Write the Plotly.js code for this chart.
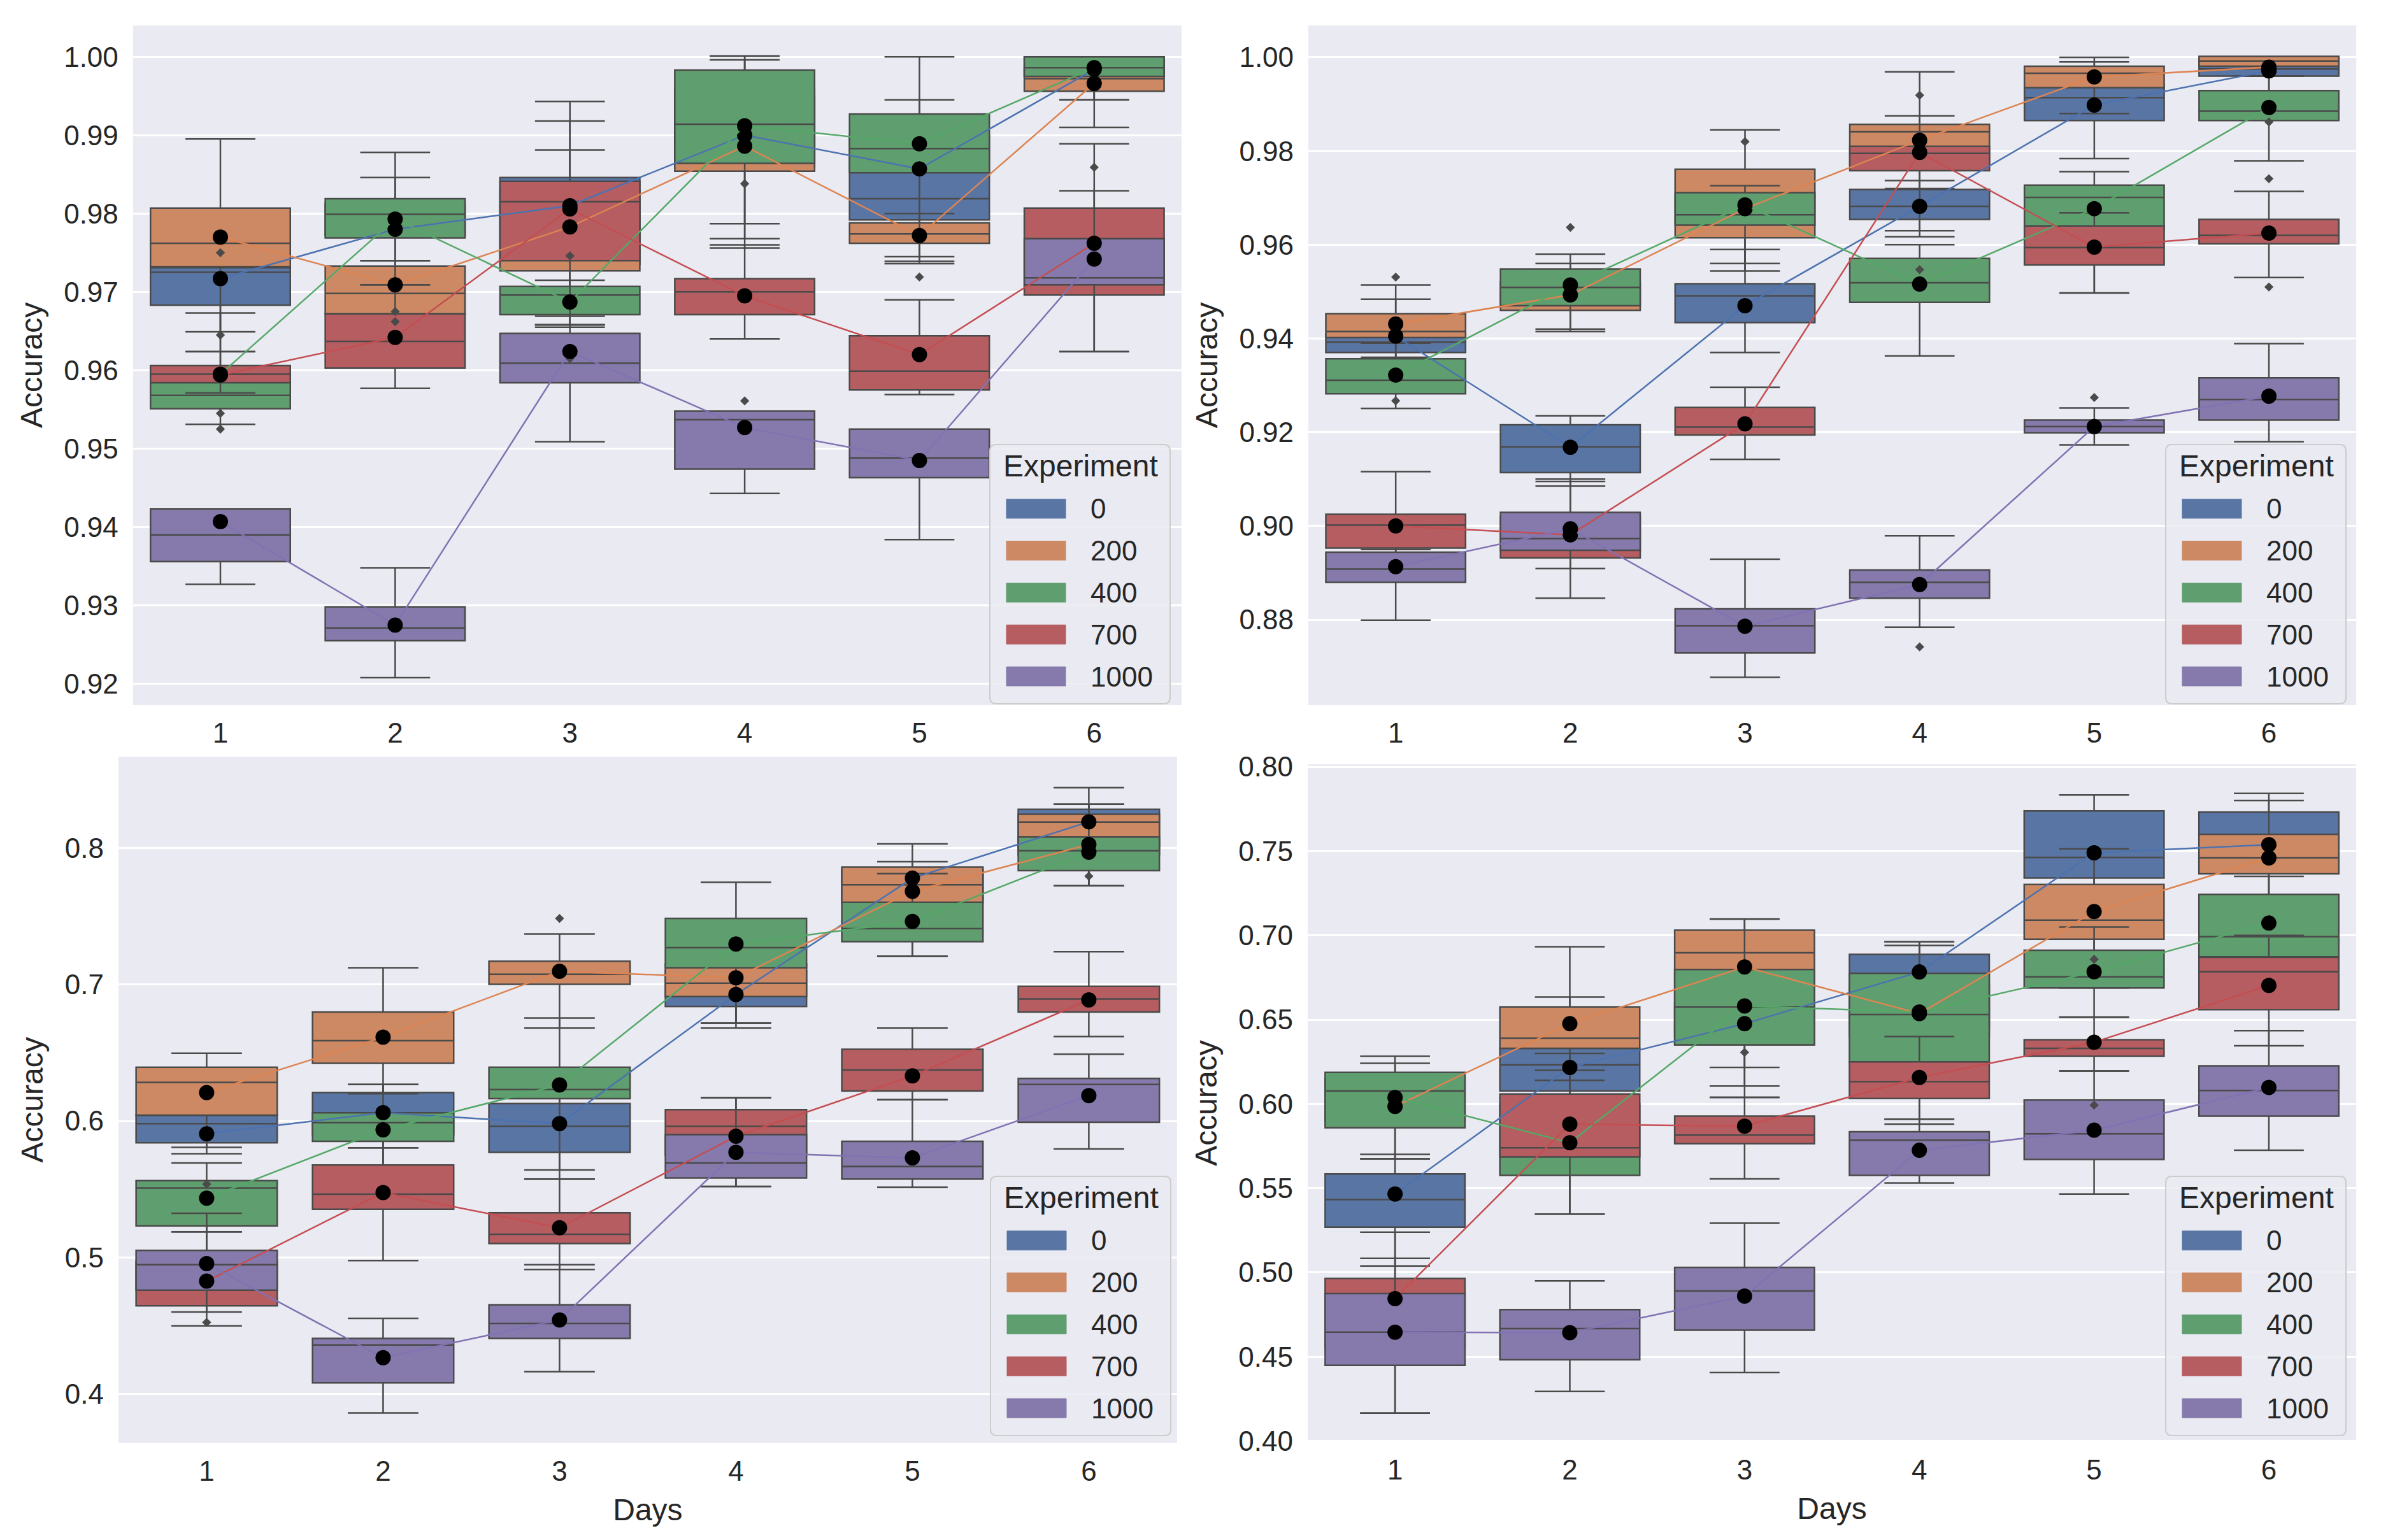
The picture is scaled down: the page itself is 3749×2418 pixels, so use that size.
<!DOCTYPE html>
<html>
<head>
<meta charset="utf-8">
<script src="https://cdn.plot.ly/plotly-3.0.1.min.js"></script>
<style>
  html, body { margin: 0; padding: 0; background: #ffffff; }
  #chart { width: 3749px; height: 2418px; }
</style>
</head>
<body>
<div id="chart"></div>
<script>
// Days on the x axis and the five experiments (hue)
const days = [1, 2, 3, 4, 5, 6];
const experiments = ['0', '200', '400', '700', '1000'];
const boxColors = ['#5975A4', '#CC8963', '#5F9E6E', '#B55D60', '#857AAB'];
const lineColors = ['#4C72B0', '#DD8452', '#55A868', '#C44E52', '#8172B3'];

// ---- Panel 1 (top left) : rows = experiment, cols = day ----
const p1Q1 = [
    [0.9683, 0.9772, 0.9735, 0.9860, 0.9792, 0.9975],
    [0.9732, 0.9672, 0.9727, 0.9854, 0.9762, 0.9956],
    [0.9551, 0.9769, 0.9671, 0.9864, 0.9852, 0.9975],
    [0.9584, 0.9603, 0.9740, 0.9671, 0.9575, 0.9696],
    [0.9356, 0.9255, 0.9584, 0.9474, 0.9463, 0.9709]
];
const p1Med = [
    [0.9725, 0.9790, 0.9790, 0.9895, 0.9819, 0.9990],
    [0.9762, 0.9698, 0.9775, 0.9900, 0.9774, 0.9972],
    [0.9568, 0.9799, 0.9696, 0.9914, 0.9883, 0.9986],
    [0.9595, 0.9637, 0.9815, 0.9700, 0.9599, 0.9735],
    [0.9390, 0.9271, 0.9609, 0.9537, 0.9488, 0.9718]
];
const p1Q3 = [
    [0.9731, 0.9812, 0.9846, 0.9960, 0.9900, 1.0000],
    [0.9807, 0.9733, 0.9830, 0.9950, 0.9788, 0.9986],
    [0.9600, 0.9819, 0.9707, 0.9983, 0.9927, 1.0000],
    [0.9606, 0.9672, 0.9841, 0.9717, 0.9644, 0.9807],
    [0.9423, 0.9298, 0.9647, 0.9548, 0.9525, 0.9768]
];
const p1Lo = [
    [0.9624, 0.9740, 0.9658, 0.9787, 0.9739, 0.9945],
    [0.9649, 0.9611, 0.9669, 0.9756, 0.9736, 0.9910],
    [0.9531, 0.9709, 0.9658, 0.9768, 0.9745, 0.9945],
    [0.9571, 0.9577, 0.9655, 0.9640, 0.9569, 0.9624],
    [0.9327, 0.9208, 0.9509, 0.9443, 0.9384, 0.9624]
];
const p1Hi = [
    [0.9787, 0.9846, 0.9918, 1.0001, 0.9945, 1.0000],
    [0.9895, 0.9740, 0.9881, 0.9996, 0.9800, 1.0000],
    [0.9673, 0.9878, 0.9715, 1.0001, 1.0000, 1.0000],
    [0.9624, 0.9709, 0.9943, 0.9760, 0.9690, 0.9889],
    [0.9423, 0.9348, 0.9658, 0.9548, 0.9525, 0.9829]
];
const p1Mean = [
    [0.9717, 0.9780, 0.9810, 0.9900, 0.9857, 0.9984],
    [0.9770, 0.9709, 0.9783, 0.9886, 0.9772, 0.9966],
    [0.9595, 0.9793, 0.9687, 0.9912, 0.9889, 0.9986],
    [0.9594, 0.9642, 0.9806, 0.9695, 0.9620, 0.9762],
    [0.9407, 0.9275, 0.9624, 0.9527, 0.9485, 0.9742]
];
const p1OutDay = [1, 1, 1, 1, 2, 2, 3, 3, 4, 4, 5, 6];
const p1OutVal = [0.9750, 0.9645, 0.9545, 0.9525, 0.9675, 0.9662, 0.9746, 0.9615, 0.9838, 0.9561, 0.9719, 0.9859];

// ---- Panel 2 (top right) ----
const p2Q1 = [
    [0.9370, 0.9114, 0.9434, 0.9654, 0.9865, 0.9960],
    [0.9402, 0.9460, 0.9615, 0.9770, 0.9935, 0.9981],
    [0.9282, 0.9470, 0.9642, 0.9477, 0.9633, 0.9865],
    [0.8953, 0.8932, 0.9194, 0.9758, 0.9557, 0.9602],
    [0.8880, 0.8948, 0.8729, 0.8846, 0.9199, 0.9226]
];
const p2Med = [
    [0.9392, 0.9169, 0.9491, 0.9682, 0.9914, 0.9975],
    [0.9415, 0.9477, 0.9665, 0.9841, 0.9966, 0.9992],
    [0.9311, 0.9509, 0.9664, 0.9519, 0.9701, 0.9885],
    [0.9002, 0.8985, 0.9211, 0.9795, 0.9594, 0.9620],
    [0.8908, 0.8973, 0.8787, 0.8880, 0.9212, 0.9270]
];
const p2Q3 = [
    [0.9410, 0.9216, 0.9517, 0.9718, 0.9940, 0.9995],
    [0.9453, 0.9520, 0.9761, 0.9857, 0.9981, 1.0002],
    [0.9357, 0.9548, 0.9711, 0.9571, 0.9727, 0.9929],
    [0.9025, 0.9020, 0.9253, 0.9810, 0.9640, 0.9654],
    [0.8944, 0.9029, 0.8823, 0.8906, 0.9226, 0.9316]
];
const p2Lo = [
    [0.9330, 0.9085, 0.9370, 0.9617, 0.9784, 0.9920],
    [0.9360, 0.9415, 0.9544, 0.9630, 0.9880, 0.9960],
    [0.9251, 0.9420, 0.9560, 0.9363, 0.9497, 0.9779],
    [0.8900, 0.8846, 0.9142, 0.9720, 0.9497, 0.9530],
    [0.8799, 0.8909, 0.8677, 0.8784, 0.9173, 0.9180]
];
const p2Hi = [
    [0.9484, 0.9235, 0.9590, 0.9737, 0.9990, 1.0000],
    [0.9514, 0.9560, 0.9845, 0.9969, 1.0000, 1.0002],
    [0.9390, 0.9580, 0.9726, 0.9600, 0.9756, 0.9960],
    [0.9116, 0.9095, 0.9296, 0.9875, 0.9668, 0.9714],
    [0.8950, 0.9100, 0.8929, 0.8979, 0.9252, 0.9389]
];
const p2Mean = [
    [0.9405, 0.9168, 0.9470, 0.9682, 0.9898, 0.9971],
    [0.9431, 0.9493, 0.9677, 0.9823, 0.9958, 0.9979],
    [0.9322, 0.9514, 0.9685, 0.9516, 0.9677, 0.9893],
    [0.9000, 0.8981, 0.9218, 0.9797, 0.9595, 0.9625],
    [0.8913, 0.8994, 0.8786, 0.8875, 0.9212, 0.9277]
];
const p2OutDay = [1, 1, 2, 3, 4, 4, 4, 5, 6, 6, 6];
const p2OutVal = [0.9531, 0.9267, 0.9637, 0.9820, 0.9919, 0.9547, 0.8742, 0.9274, 0.9862, 0.9741, 0.9510];

// ---- Panel 3 (bottom left) ----
const p3Q1 = [
    [0.5840, 0.5900, 0.5770, 0.6839, 0.7620, 0.8000],
    [0.6042, 0.6422, 0.7001, 0.6912, 0.7600, 0.7950],
    [0.5231, 0.5851, 0.6164, 0.7123, 0.7314, 0.7834],
    [0.4645, 0.5353, 0.5102, 0.5750, 0.6219, 0.6798],
    [0.4760, 0.4081, 0.4406, 0.5582, 0.5574, 0.5991]
];
const p3Med = [
    [0.5980, 0.6040, 0.5961, 0.6950, 0.7780, 0.8190],
    [0.6282, 0.6588, 0.7075, 0.7010, 0.7731, 0.8190],
    [0.5508, 0.5987, 0.6230, 0.7270, 0.7410, 0.7980],
    [0.4774, 0.5464, 0.5169, 0.5961, 0.6374, 0.6894],
    [0.4947, 0.4358, 0.4516, 0.5692, 0.5666, 0.6267]
];
const p3Q3 = [
    [0.6042, 0.6208, 0.6127, 0.7100, 0.7840, 0.8284],
    [0.6393, 0.6798, 0.7170, 0.7150, 0.7860, 0.8247],
    [0.5563, 0.6060, 0.6393, 0.7484, 0.7602, 0.8081],
    [0.4970, 0.5677, 0.5327, 0.6083, 0.6525, 0.6986],
    [0.5051, 0.4406, 0.4653, 0.5900, 0.5851, 0.6312]
];
const p3Lo = [
    [0.5807, 0.5803, 0.5574, 0.6717, 0.7400, 0.7723],
    [0.5760, 0.6200, 0.6680, 0.6680, 0.7207, 0.7723],
    [0.5187, 0.5563, 0.5641, 0.6717, 0.7207, 0.7723],
    [0.4498, 0.4977, 0.4911, 0.5519, 0.6157, 0.6618],
    [0.4600, 0.3860, 0.4162, 0.5519, 0.5515, 0.5795]
];
const p3Hi = [
    [0.6060, 0.6267, 0.6348, 0.7300, 0.7900, 0.8442],
    [0.6496, 0.7123, 0.7370, 0.7400, 0.8030, 0.8321],
    [0.5692, 0.6267, 0.6754, 0.7749, 0.7812, 0.8321],
    [0.5323, 0.5803, 0.5574, 0.6171, 0.6680, 0.7241],
    [0.5187, 0.4553, 0.4947, 0.6171, 0.6157, 0.6489]
];
const p3Mean = [
    [0.5906, 0.6061, 0.5980, 0.6927, 0.7779, 0.8192],
    [0.6208, 0.6614, 0.7097, 0.7049, 0.7683, 0.8026],
    [0.5434, 0.5935, 0.6264, 0.7296, 0.7462, 0.7970],
    [0.4826, 0.5475, 0.5217, 0.5888, 0.6330, 0.6887],
    [0.4955, 0.4265, 0.4542, 0.5770, 0.5729, 0.6186]
];
const p3OutDay = [1, 1, 3, 6];
const p3OutVal = [0.5537, 0.4524, 0.7484, 0.7794];

// ---- Panel 4 (bottom right) ----
const p4Q1 = [
    [0.5269, 0.6077, 0.6351, 0.6450, 0.7341, 0.7380],
    [0.5900, 0.6330, 0.6400, 0.6400, 0.6977, 0.7365],
    [0.5859, 0.5576, 0.6351, 0.6247, 0.6688, 0.6873],
    [0.4550, 0.5686, 0.5764, 0.6032, 0.6283, 0.6560],
    [0.4449, 0.4482, 0.4658, 0.5576, 0.5671, 0.5928]
];
const p4Med = [
    [0.5433, 0.6232, 0.6460, 0.6600, 0.7463, 0.7538],
    [0.6010, 0.6390, 0.6897, 0.6530, 0.7090, 0.7460],
    [0.6077, 0.5800, 0.6575, 0.6530, 0.6754, 0.6992],
    [0.4726, 0.5740, 0.5815, 0.6133, 0.6330, 0.6784],
    [0.4646, 0.4667, 0.4890, 0.5785, 0.5823, 0.6080]
];
const p4Q3 = [
    [0.5585, 0.6330, 0.6600, 0.6887, 0.7738, 0.7732],
    [0.6150, 0.6575, 0.7031, 0.6700, 0.7302, 0.7600],
    [0.6187, 0.6000, 0.6798, 0.6775, 0.6912, 0.7243],
    [0.4965, 0.6059, 0.5928, 0.6250, 0.6381, 0.6870],
    [0.4875, 0.4780, 0.5030, 0.5835, 0.6023, 0.6226]
];
const p4Lo = [
    [0.5039, 0.5800, 0.6038, 0.6291, 0.6977, 0.7000],
    [0.5674, 0.6140, 0.6217, 0.6200, 0.6688, 0.7100],
    [0.5674, 0.5347, 0.6106, 0.5910, 0.6515, 0.6600],
    [0.4166, 0.5347, 0.5555, 0.5880, 0.6196, 0.6345],
    [0.4166, 0.4294, 0.4407, 0.5531, 0.5466, 0.5725]
];
const p4Hi = [
    [0.5701, 0.6634, 0.6850, 0.6962, 0.7833, 0.7842],
    [0.6283, 0.6933, 0.7097, 0.6940, 0.7514, 0.7800],
    [0.6241, 0.6200, 0.7097, 0.6962, 0.7050, 0.7350],
    [0.5084, 0.6300, 0.6040, 0.6400, 0.6515, 0.7000],
    [0.5239, 0.4950, 0.5293, 0.5910, 0.6196, 0.6435]
];
const p4Mean = [
    [0.5466, 0.6217, 0.6476, 0.6783, 0.7490, 0.7538],
    [0.5985, 0.6476, 0.6813, 0.6536, 0.7141, 0.7460],
    [0.6038, 0.5770, 0.6581, 0.6545, 0.6784, 0.7073],
    [0.4845, 0.5880, 0.5868, 0.6157, 0.6366, 0.6703],
    [0.4646, 0.4643, 0.4860, 0.5725, 0.5844, 0.6098]
];
const p4OutDay = [3, 5, 5];
const p4OutVal = [0.6306, 0.6858, 0.5993];

// y ticks of each panel
const p1Ticks = [0.92, 0.93, 0.94, 0.95, 0.96, 0.97, 0.98, 0.99, 1.00];
const p2Ticks = [0.88, 0.90, 0.92, 0.94, 0.96, 0.98, 1.00];
const p3Ticks = [0.4, 0.5, 0.6, 0.7, 0.8];
const p4Ticks = [0.40, 0.45, 0.50, 0.55, 0.60, 0.65, 0.70, 0.75, 0.80];

const panels = [
    { q1: p1Q1, med: p1Med, q3: p1Q3, lo: p1Lo, hi: p1Hi, mean: p1Mean, outDay: p1OutDay, outVal: p1OutVal,
      ticks: p1Ticks, fmt: '.2f', range: [0.9173, 1.0040], xDom: [0.0557, 0.4948], yDom: [0.5422, 0.9835],
      legendPx: [1837, 1105], xTitle: '' },
    { q1: p2Q1, med: p2Med, q3: p2Q3, lo: p2Lo, hi: p2Hi, mean: p2Mean, outDay: p2OutDay, outVal: p2OutVal,
      ticks: p2Ticks, fmt: '.2f', range: [0.8618, 1.0068], xDom: [0.5479, 0.9867], yDom: [0.5422, 0.9835],
      legendPx: [3683, 1105], xTitle: '' },
    { q1: p3Q1, med: p3Med, q3: p3Q3, lo: p3Lo, hi: p3Hi, mean: p3Mean, outDay: p3OutDay, outVal: p3OutVal,
      ticks: p3Ticks, fmt: '.1f', range: [0.3639, 0.8670], xDom: [0.0496, 0.4929], yDom: [0.0629, 0.5087],
      legendPx: [1838, 2254], xTitle: 'Days' },
    { q1: p4Q1, med: p4Med, q3: p4Q3, lo: p4Lo, hi: p4Hi, mean: p4Mean, outDay: p4OutDay, outVal: p4OutVal,
      ticks: p4Ticks, fmt: '.2f', range: [0.3995, 0.8015], xDom: [0.5476, 0.9867], yDom: [0.0637, 0.5037],
      legendPx: [3683, 2254], xTitle: 'Days' }
];

const W = 3749;
const H = 2418;
const fontFamily = 'Liberation Sans, Arial, sans-serif';
const textColor = '#262626';
const edgeColor = '#4a4a4a';

// pixel -> paper helpers (margins are zero, so paper == page)
const px = v => v / W;
const py = v => 1 - v / H;

const traces = [];
const shapes = [];
const annotations = [];
const layout = {
    width: W,
    height: H,
    margin: { l: 0, r: 0, t: 0, b: 0 },
    paper_bgcolor: '#ffffff',
    plot_bgcolor: '#EAEAF2',
    font: { family: fontFamily, size: 44, color: textColor },
    boxmode: 'overlay',
    showlegend: false
};

// seaborn-like legend box drawn with shapes + annotations
function addLegend(right, bottom) {
    const x0 = right - 283, x1 = right, y0 = bottom - 407, y1 = bottom, r = 10;
    const path = `M ${px(x0 + r)},${py(y0)} H ${px(x1 - r)} Q ${px(x1)},${py(y0)} ${px(x1)},${py(y0 + r)}` +
        ` V ${py(y1 - r)} Q ${px(x1)},${py(y1)} ${px(x1 - r)},${py(y1)}` +
        ` H ${px(x0 + r)} Q ${px(x0)},${py(y1)} ${px(x0)},${py(y1 - r)}` +
        ` V ${py(y0 + r)} Q ${px(x0)},${py(y0)} ${px(x0 + r)},${py(y0)} Z`;
    shapes.push({
        type: 'path', xref: 'paper', yref: 'paper', path: path,
        fillcolor: 'rgba(234,234,242,0.85)', line: { color: '#CCCCCC', width: 2 }, layer: 'above'
    });
    annotations.push({
        xref: 'paper', yref: 'paper', x: px(right - 264), y: py(bottom - 374),
        xanchor: 'left', yanchor: 'middle', showarrow: false,
        text: 'Experiment', font: { size: 48, color: textColor }
    });
    experiments.forEach((exp, e) => {
        const cy = bottom - 43 - (experiments.length - 1 - e) * 65.8;
        shapes.push({
            type: 'rect', xref: 'paper', yref: 'paper', layer: 'above',
            x0: px(right - 257), x1: px(right - 164), y0: py(cy + 15), y1: py(cy - 15),
            fillcolor: boxColors[e], line: { color: boxColors[e], width: 1 }
        });
        annotations.push({
            xref: 'paper', yref: 'paper', x: px(right - 127), y: py(cy),
            xanchor: 'left', yanchor: 'middle', showarrow: false,
            text: exp, font: { size: 44, color: textColor }
        });
    });
}

panels.forEach((p, i) => {
    const n = i === 0 ? '' : String(i + 1);
    const xa = 'x' + n;
    const ya = 'y' + n;

    // overlapping boxes, one trace per experiment
    experiments.forEach((exp, e) => {
        traces.push({
            type: 'box',
            name: exp,
            x: days,
            q1: p.q1[e],
            median: p.med[e],
            q3: p.q3[e],
            lowerfence: p.lo[e],
            upperfence: p.hi[e],
            width: 0.8,
            whiskerwidth: 0.5,
            boxpoints: false,
            fillcolor: boxColors[e],
            line: { color: edgeColor, width: 2.5 },
            xaxis: xa,
            yaxis: ya,
            hoverinfo: 'skip'
        });
    });

    // outliers (fliers)
    traces.push({
        type: 'scatter',
        mode: 'markers',
        x: p.outDay,
        y: p.outVal,
        marker: { symbol: 'diamond', size: 11, color: edgeColor },
        xaxis: xa,
        yaxis: ya,
        hoverinfo: 'skip'
    });

    // mean lines with black markers
    experiments.forEach((exp, e) => {
        traces.push({
            type: 'scatter',
            mode: 'lines+markers',
            name: exp,
            x: days,
            y: p.mean[e],
            line: { color: lineColors[e], width: 2.5 },
            marker: { color: '#000000', size: 24 },
            xaxis: xa,
            yaxis: ya,
            hoverinfo: 'skip'
        });
    });

    layout['xaxis' + n] = {
        domain: p.xDom,
        anchor: ya,
        range: [0.5, 6.5],
        tickvals: days,
        ticktext: days.map(String),
        showgrid: false,
        zeroline: false,
        showline: false,
        ticks: '',
        ticklabelstandoff: 14,
        tickfont: { size: 44, color: textColor },
        title: { text: p.xTitle, font: { size: 48, color: textColor }, standoff: 20 }
    };
    layout['yaxis' + n] = {
        domain: p.yDom,
        anchor: xa,
        range: p.range,
        tickvals: p.ticks,
        tickformat: p.fmt,
        showgrid: true,
        gridcolor: '#ffffff',
        gridwidth: 3,
        zeroline: false,
        showline: false,
        ticks: '',
        ticklabelstandoff: 22,
        tickfont: { size: 44, color: textColor },
        title: { text: 'Accuracy', font: { size: 48, color: textColor }, standoff: 18 }
    };

    addLegend(p.legendPx[0], p.legendPx[1]);
});

layout.shapes = shapes;
layout.annotations = annotations;

const config = { responsive: false, displayModeBar: false, staticPlot: true };

Plotly.newPlot('chart', traces, layout, config);
</script>
</body>
</html>
